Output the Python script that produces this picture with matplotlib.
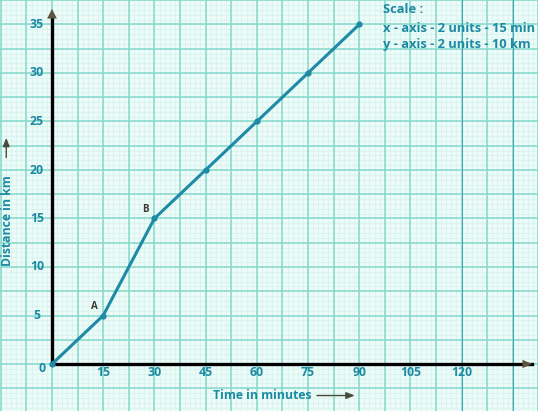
import matplotlib
matplotlib.use("Agg")
import matplotlib.pyplot as plt
import numpy as np

time_min = [0, 15, 30, 45, 60, 75, 90]
distance_km = [0, 5, 15, 20, 25, 30, 35]
x_ticks = [15, 30, 45, 60, 75, 90, 105, 120]
y_ticks = [5, 10, 15, 20, 25, 30, 35]
point_labels = {"A": (15, 5), "B": (30, 15)}

FONT = ["Open Sans", "DejaVu Sans"]

W, H = 542, 419
fig = plt.figure(figsize=(W / 100, H / 100), dpi=100, facecolor="white")
ax = fig.add_axes([0, 8 / H, 538 / W, 411 / H])
ax.set_facecolor("#eefcf9")

px_per_min = 51.2 / 15
px_per_km = 48.5 / 5
xmin = -52 / px_per_min
xmax = (538 - 52) / px_per_min
ymax = 364 / px_per_km
ymin = -(411 - 364) / px_per_km
ax.set_xlim(xmin, xmax)
ax.set_ylim(ymin, ymax)

# graph paper grid
for v in np.arange(-15, 150, 1.5):
    ax.axvline(v, color="#daf5ef", lw=0.8, zorder=0)
for v in np.arange(-10, 40, 0.5):
    ax.axhline(v, color="#daf5ef", lw=0.8, zorder=0)
for v in np.arange(-15, 150, 7.5):
    ax.axvline(v, color="#85d9cb", lw=1.1, zorder=0.5)
for v in np.arange(-10, 40, 2.5):
    ax.axhline(v, color="#85d9cb", lw=1.1, zorder=0.5)
for v in [120, 135]:
    ax.axvline(v, color="#4aa8b8", lw=0.8, zorder=0.6)

for s in ax.spines.values():
    s.set_visible(False)
ax.set_xticks([])
ax.set_yticks([])

# axes lines with arrows
ax.plot([0, 0], [0, 35.9], color="black", lw=2.4, zorder=3)
ax.plot([0, 140.5], [0, 0], color="black", lw=2.4, zorder=3)
ax.annotate("", xy=(0, 36.9), xytext=(0, 35.0),
            arrowprops=dict(arrowstyle="-|>,head_width=0.35,head_length=0.7",
                            color="#5b5240", lw=0), zorder=4)
ax.annotate("", xy=(141.5, 0), xytext=(138, 0),
            arrowprops=dict(arrowstyle="-|>,head_width=0.3,head_length=0.7",
                            color="#5b5240", lw=0), zorder=4)

tick_color = "#1b8aa3"
fs = 8.8
for t in x_ticks:
    ax.text(t, -0.85, str(t), ha="center", va="center", color=tick_color,
            fontsize=fs, fontweight="bold", family=FONT)
for t in y_ticks:
    ax.text(-4.4, t, str(t), ha="center", va="center", color=tick_color,
            fontsize=fs, fontweight="bold", family=FONT)
ax.text(-3.0, -0.45, "0", ha="center", va="center", color=tick_color,
        fontsize=fs, fontweight="bold", family=FONT)

# data line
ax.plot(time_min, distance_km, color="#1e8aa6", lw=2.2, zorder=5,
        solid_capstyle="round")
ax.plot(time_min, distance_km, "o", color="#1e8aa6", ms=3.5, zorder=6)

for name, (x, y) in point_labels.items():
    ax.text(x - 2.7, y + 0.9, name, ha="center", va="center",
            color="#3a3a30", fontsize=7, fontweight="bold", family=FONT)

# axis titles
ax.text(61.5, -3.25, "Time in minutes", ha="center", va="center",
        color=tick_color, fontsize=fs, fontweight="bold", family=FONT)
ax.annotate("", xy=(89.5, -3.25), xytext=(76.8, -3.25),
            arrowprops=dict(arrowstyle="-|>,head_width=0.2,head_length=0.5",
                            color="#4a4a3a", lw=1.0))
ax.text(-13.0, 14.8, "Distance in km", ha="center", va="center",
        rotation=90, color=tick_color, fontsize=fs, fontweight="bold",
        family=FONT)
ax.annotate("", xy=(-13.4, 23.6), xytext=(-13.4, 21.0),
            arrowprops=dict(arrowstyle="-|>,head_width=0.2,head_length=0.5",
                            color="#4a4a3a", lw=1.0))

# scale box
sfs = 9.3
sx = (383 - 52) / px_per_min
ax.text(sx, 36.5, "Scale :", ha="left", va="center", color=tick_color,
        fontsize=sfs, fontweight="bold", family=FONT)
ax.text(sx, 34.6, "x - axis - 2 units - 15 min", ha="left", va="center",
        color=tick_color, fontsize=sfs, fontweight="bold", family=FONT)
ax.text(sx, 32.9, "y - axis - 2 units - 10 km", ha="left", va="center",
        color=tick_color, fontsize=sfs, fontweight="bold", family=FONT)

fig.savefig("out.png", dpi=100, facecolor="white")
